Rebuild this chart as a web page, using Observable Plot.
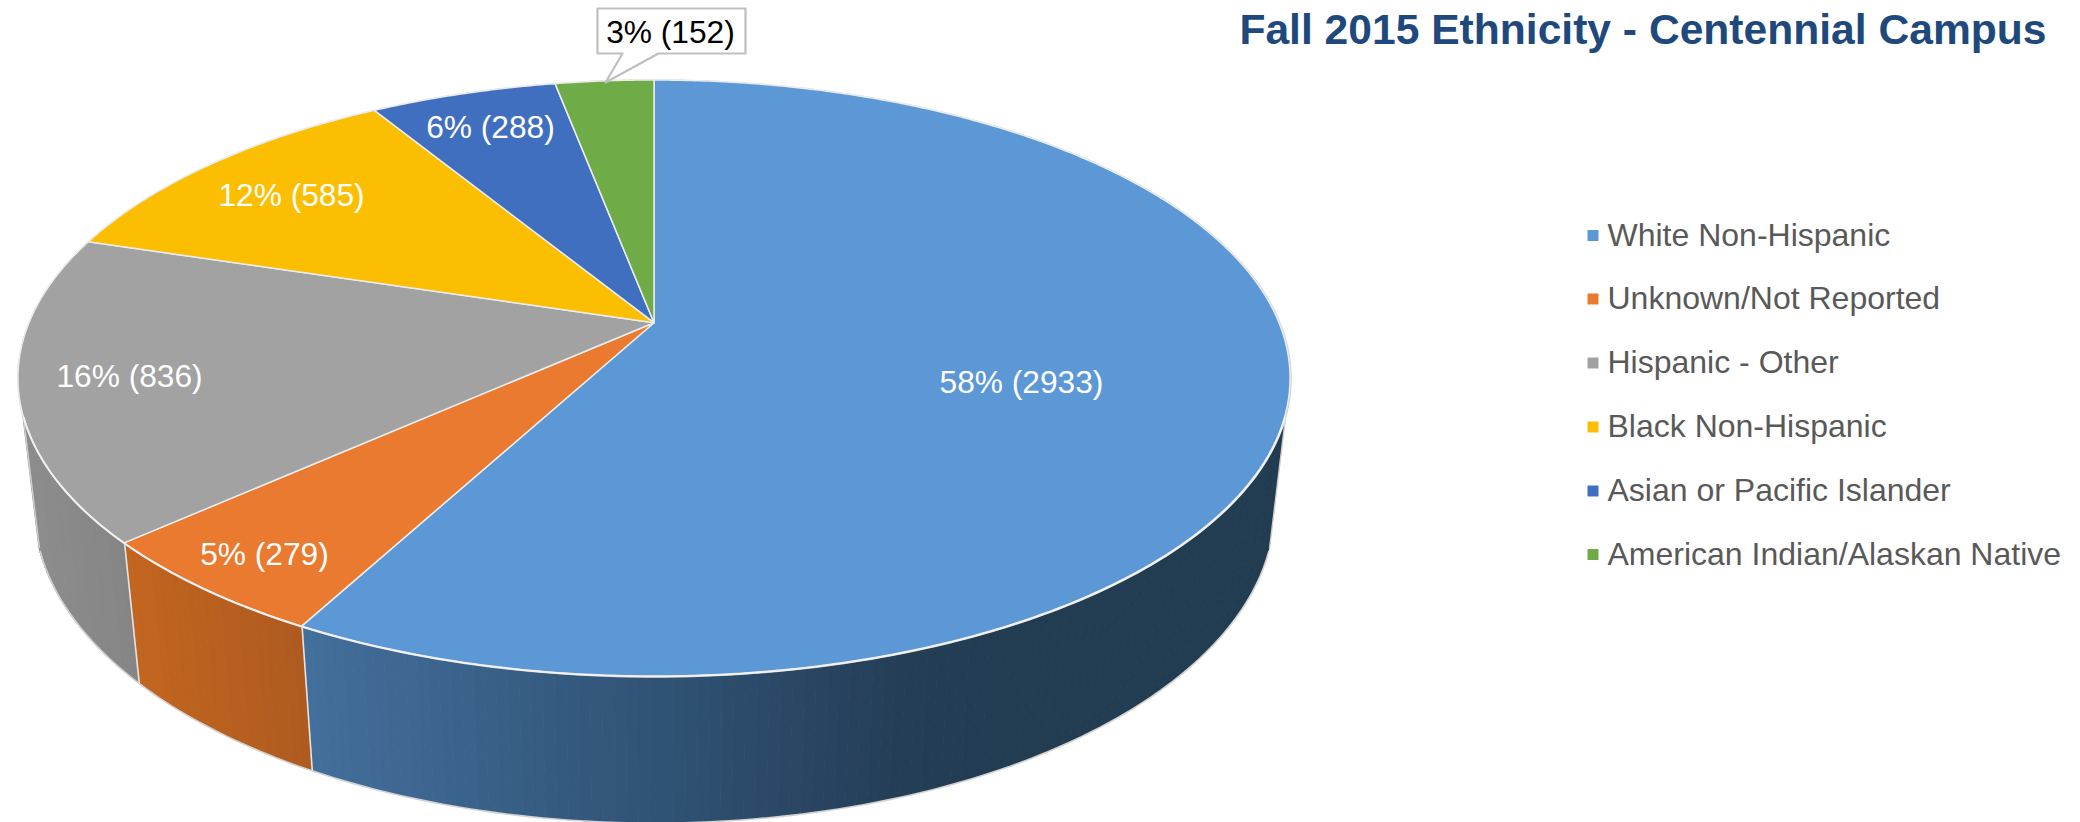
<!DOCTYPE html>
<html>
<head>
<meta charset="utf-8">
<style>
html,body{margin:0;padding:0;background:#fff;}
svg{display:block;}
</style>
<script src="https://cdn.jsdelivr.net/npm/d3@7"></script>
<script src="https://cdn.jsdelivr.net/npm/@observablehq/plot@0.6"></script>
</head>
<body>
<div id="chart"></div>
<script>
// ---- data ----
const categories = ["White Non-Hispanic","Unknown/Not Reported","Hispanic - Other","Black Non-Hispanic","Asian or Pacific Islander","American Indian/Alaskan Native"];
const counts = [2933,279,836,585,288,152];
const percents = [58,5,16,12,6,3];
const sliceColors = ["#5b98d5","#e97a2f","#a2a2a2","#fbbe00","#416fc0","#6fab46"];

// ---- layout ----
const W = 2080, H = 822;
const labelX = [1021,264,129,291,490,670];
const labelY = [382,554,376,195,127,32];
const labelInk = ["#fff","#fff","#fff","#fff","#fff","#000"];
const legendY = [235,298.5,362.5,426.5,490.5,554];
const calloutX = [597,745,745,658,605,622,597,597];
const calloutY = [8,8,53,53,82,53,53,8];

// perspective of the pie's two parallel faces (unit circle -> page)
const CX = 654, K = 625, C = 0.1856;
const faces = {
  top:    {w0:1,     a:227.85, b:322.7},
  bottom: {w0:1.025, a:228,    b:462.5}
};
function project(frac, face){
  const t = 2*Math.PI*frac, u = Math.sin(t), v = -Math.cos(t), f = faces[face];
  const w = f.w0 - C*v;
  return {x: CX + K*u/w, y: (f.a*v + f.b)/w, v};
}

const total = d3.sum(counts);
const ends = d3.cumsum(counts).map(c => c/total);
const starts = [0, ...ends.slice(0,-1)];
const apex = {x:CX, y:faces.top.b};

// top face wedges
const wedges = categories.flatMap((name,i)=>{
  const n = Math.max(12, Math.ceil((ends[i]-starts[i])*720));
  return d3.range(n+1).map(k=>{
    const p = project(starts[i]+(ends[i]-starts[i])*k/n,"top");
    return {name, color:sliceColors[i], x1:apex.x, y1:apex.y, x2:p.x, y2:p.y};
  });
});

// the wall's outline: silhouette edges sit where the rim turns away from view
const silhouetteV = 0.3;
const silhouetteFrac = Math.acos(-silhouetteV)/(2*Math.PI);

// side wall shading varies with horizontal position
const wallShade = [
  d3.scaleLinear().domain([302,500,700,800,900,1000,1300]).range(["#436f9c","#385f86","#2e4f70","#2a4663","#243e57","#223c52","#223c52"]),
  d3.scaleLinear().domain([125,310]).range(["#c2651f","#ad5a20"]),
  d3.scaleLinear().domain([18,125]).range(["#8d8d8d","#858585"])
];
const wall = [0,1,2].flatMap(i=>{
  const lo = Math.max(starts[i], silhouetteFrac), hi = Math.min(ends[i], 1-silhouetteFrac);
  const n = Math.ceil((hi-lo)/0.0025), rows = [];
  for(let k=0;k<n;k++){
    const f0 = lo+(hi-lo)*k/n, f1 = lo+(hi-lo)*(k+1)/n;
    const a0 = project(f0,"top"), a1 = project(f1,"top"), b0 = project(f0,"bottom"), b1 = project(f1,"bottom");
    const col = d3.color(wallShade[i]((a0.x+a1.x)/2)).formatHex();
    rows.push({id:i+"-"+k,color:col,x1:b0.x,y1:b0.y,x2:a0.x,y2:a0.y},{id:i+"-"+k,color:col,x1:b1.x,y1:b1.y,x2:a1.x,y2:a1.y});
  }
  return rows;
});

const rimFracs = d3.range(0,1.0001,0.002);
const topRim = rimFracs.map(f=>project(f,"top"));
const frontRim = topRim.filter(p=>p.v>=silhouetteV);
const bottomRim = rimFracs.map(f=>project(f,"bottom")).filter(p=>p.v>=silhouetteV);
const wallEdges = [ends[0],ends[1]].map(f=>{
  const a = project(f,"top"), b = project(f,"bottom");
  return {x1:a.x,y1:a.y,x2:b.x,y2:b.y};
});
const silhouettes = [silhouetteFrac,1-silhouetteFrac].map(f=>{
  const a = project(f,"top"), b = project(f,"bottom");
  return {x1:a.x,y1:a.y,x2:b.x,y2:b.y};
});
const callout = calloutX.map((x,i)=>({x,y:calloutY[i]}));
const labels = categories.map((c,i)=>({text:`${percents[i]}% (${counts[i]})`,x:labelX[i],y:labelY[i],ink:labelInk[i]}));
const legend = categories.map((c,i)=>({name:c,color:sliceColors[i],y:legendY[i]}));
const FONT = "Liberation Sans, Arial, sans-serif";

const chart = Plot.plot({
  width:W, height:H, margin:0,
  x:{domain:[0,W],range:[0,W],axis:null},
  y:{domain:[0,H],range:[0,H],axis:null},
  color:{type:"identity"},
  style:{fontFamily:FONT,background:"#fff"},
  marks:[
    Plot.area(wall,{x1:"x1",y1:"y1",x2:"x2",y2:"y2",z:"id",fill:"color",stroke:"color",strokeWidth:1,curve:"linear"}),
    Plot.line(bottomRim,{x:"x",y:"y",stroke:"#d2d2d2",strokeWidth:1.6}),
    Plot.link(silhouettes,{x1:"x1",y1:"y1",x2:"x2",y2:"y2",stroke:"#cfcfcf",strokeWidth:1.4}),
    Plot.link(wallEdges,{x1:"x1",y1:"y1",x2:"x2",y2:"y2",stroke:"#e4e4e4",strokeWidth:1.6}),
    Plot.line(topRim,{x:"x",y:"y",stroke:"#cfcfcf",strokeWidth:2.4}),
    Plot.area(wedges,{x1:"x1",y1:"y1",x2:"x2",y2:"y2",z:"name",fill:"color",stroke:"#ececec",strokeWidth:1.5,curve:"linear"}),
    Plot.line(frontRim,{x:"x",y:"y",stroke:"#f2f2f2",strokeWidth:1.6}),
    Plot.line(callout,{x:"x",y:"y",fill:"#fff",stroke:"#bfbfbf",strokeWidth:2.2}),
    Plot.text(labels,{x:"x",y:"y",text:"text",fill:"ink",fontSize:31.7,textAnchor:"middle",lineAnchor:"middle"}),
    Plot.dot(legend,{x:()=>1592.5,y:"y",fill:"color",symbol:"square",r:6.2}),
    Plot.text(legend,{x:()=>1607,y:"y",text:"name",fill:"#595959",fontSize:32,textAnchor:"start",lineAnchor:"middle"}),
    Plot.text(["Fall 2015 Ethnicity - Centennial Campus"],{x:()=>2046,y:()=>30,text:d=>d,fill:"#1f497d",fontSize:42.6,fontWeight:"bold",textAnchor:"end",lineAnchor:"middle"})
  ]
});
document.getElementById("chart").appendChild(chart);
</script>
</body>
</html>
